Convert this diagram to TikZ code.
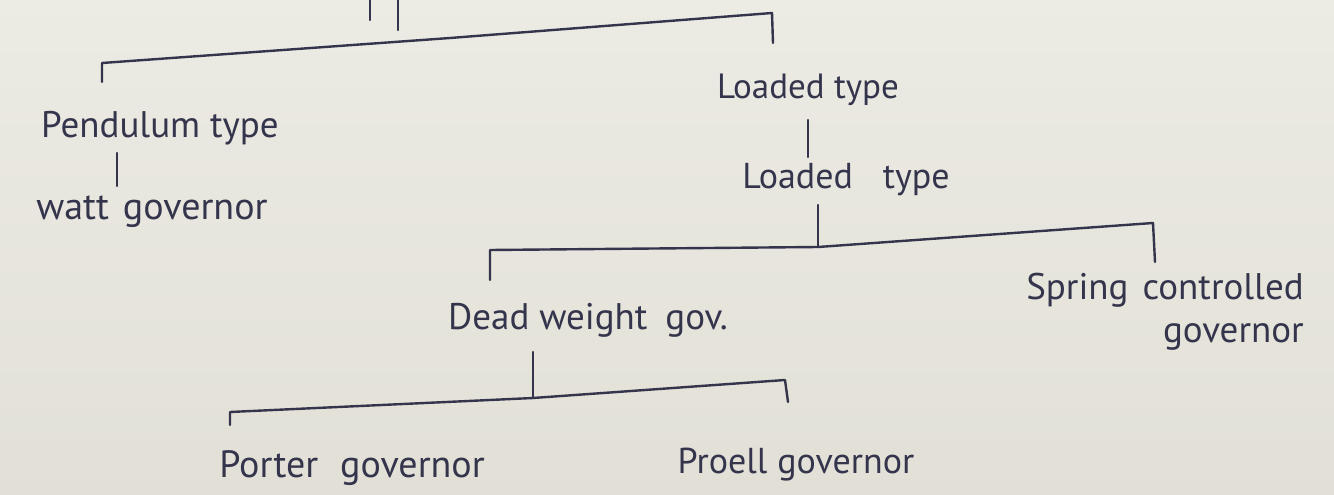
\documentclass[tikz,border=0pt]{standalone}
\usepackage{fontspec}
\setmainfont{PT Sans}
\definecolor{paper}{HTML}{ECEBE4}
\definecolor{paperdark}{HTML}{E2E0D6}
\definecolor{ink}{HTML}{34354C}
\tikzset{
  lbl/.style={text=ink, inner sep=0pt, font=\fontsize{#1}{#1}\selectfont},
  lbl/.default=34,
  wire/.style={draw=ink, line width=2.4pt, line cap=round, line join=round},
}
\begin{document}
\begin{tikzpicture}[x=1pt,y=-1pt]
\shade[top color=paper, bottom color=paperdark] (0,0) rectangle (1334,495);
\useasboundingbox (0,0) rectangle (1334,495);
% labels
\node[lbl=37] (pend) at (160,128) {Pendulum type};
\node[lbl=38] (watt) at (152,212) {watt\hspace{14pt}governor};
\node[lbl=35] (load1) at (808,90) {Loaded type};
\node[lbl=36] (load2) at (846,180) {Loaded\hspace{30pt}type};
\node[lbl=37] (dead) at (588,320) {Dead weight\hspace{18pt}gov.};
\node[lbl=37, align=right] (spring) at (1165,312) {Spring\hspace{14pt}controlled\\[6pt]governor};
\node[lbl=38] (porter) at (352,468) {Porter\hspace{22pt}governor};
\node[lbl=36] (proell) at (796,465) {Proell\hspace{10pt}governor};
% root stub
\coordinate (rootA) at (370,0);
\coordinate (rootB) at (398,0);
\draw[wire] (rootA) -- ++(0,20);
\draw[wire] (rootB) -- ++(0,30);
% top bracket
\coordinate (t1) at (102,82);
\coordinate (t2) at (102,63);
\coordinate (t3) at (450,38);
\coordinate (t4) at (772,13);
\coordinate (t5) at (773,43);
\draw[wire] (t1) -- (t2) -- (t3) -- (t4) -- (t5);
% pendulum -> watt
\coordinate (pw1) at (117,153);
\coordinate (pw2) at (117,186);
\draw[wire] (pw1) -- (pw2);
% loaded -> loaded
\coordinate (ll1) at (808,120);
\coordinate (ll2) at (808,157);
\draw[wire] (ll1) -- (ll2);
% second bracket
\coordinate (m0) at (818,205);
\coordinate (m1) at (490,280);
\coordinate (m2) at (490,250);
\coordinate (m3) at (818,247);
\coordinate (m4) at (1153,223);
\coordinate (m5) at (1155,262);
\draw[wire] (m0) -- (m3);
\draw[wire] (m1) -- (m2) -- (m3) -- (m4) -- (m5);
% third bracket
\coordinate (b0) at (533,352);
\coordinate (b1) at (230,425);
\coordinate (b2) at (230,412);
\coordinate (b3) at (533,398);
\coordinate (b4) at (785,380);
\coordinate (b5) at (788,402);
\draw[wire] (b0) -- (b3);
\draw[wire] (b1) -- (b2) -- (b3) -- (b4) -- (b5);
\end{tikzpicture}
\end{document}
